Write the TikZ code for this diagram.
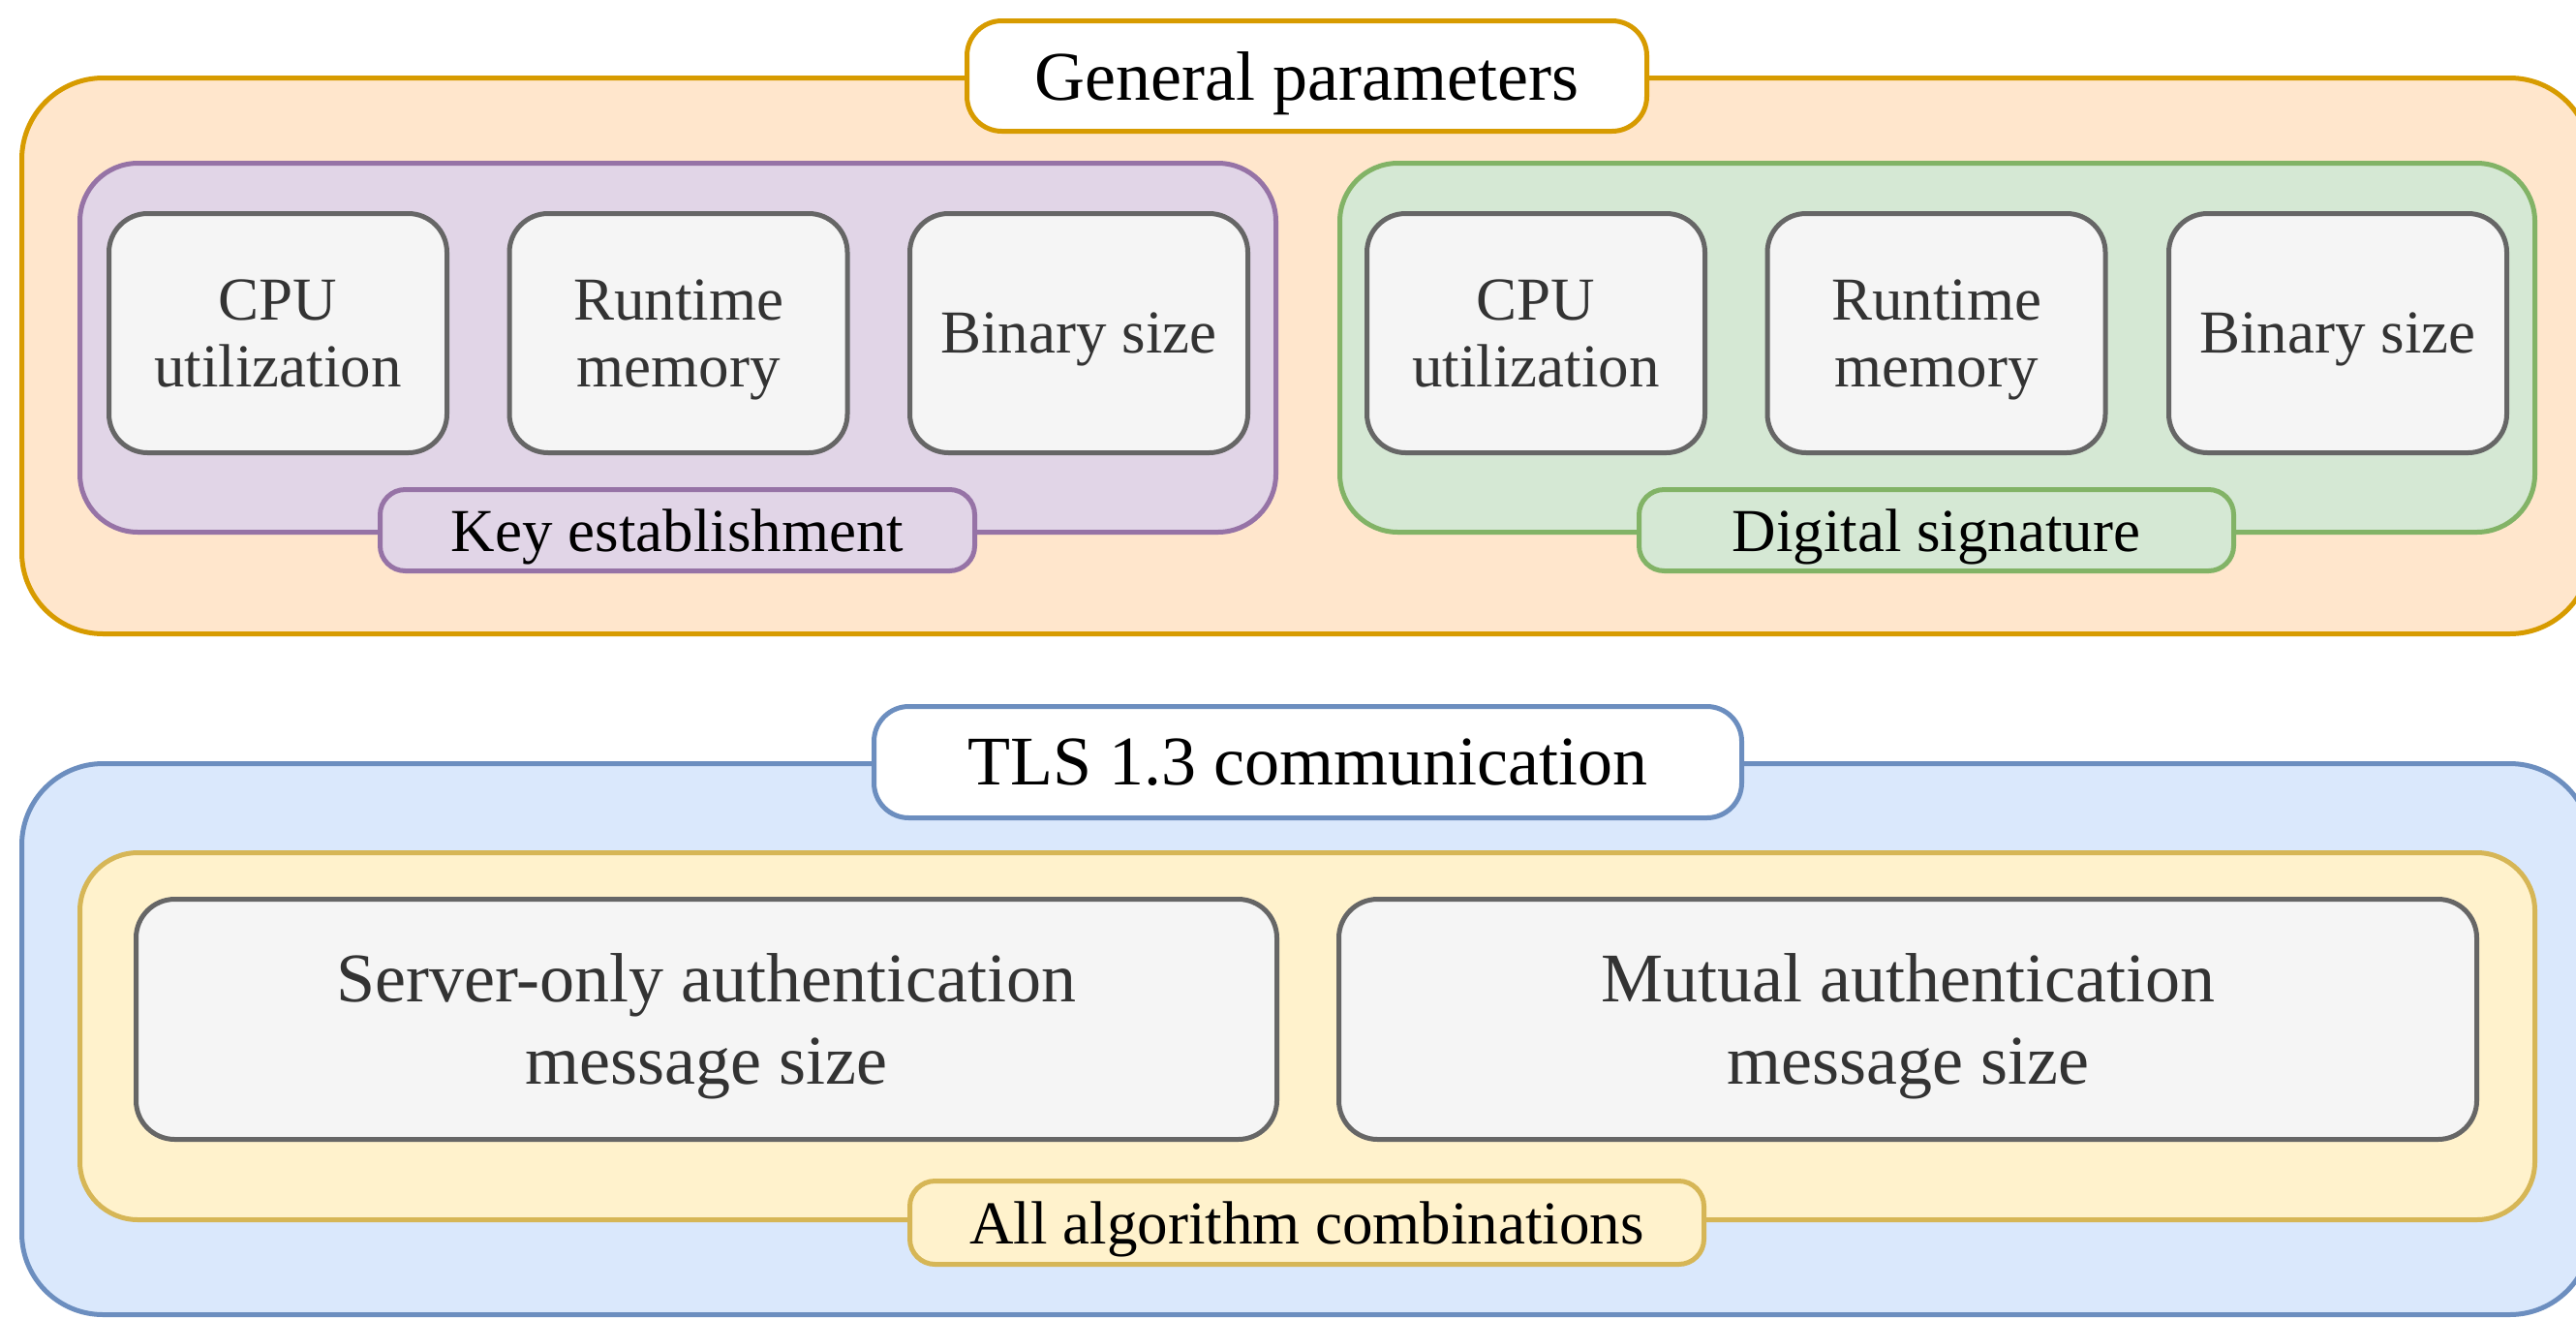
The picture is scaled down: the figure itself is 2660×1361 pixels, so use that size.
\documentclass[tikz,border=0pt]{standalone}
\usepackage{fontspec}
\setmainfont{Liberation Serif}
\newcommand\nd[1]{\raisebox{0pt}[\height][0pt]{#1}}
\definecolor{orS}{HTML}{D79B00}\definecolor{orF}{HTML}{FFE6CC}
\definecolor{puS}{HTML}{9673A6}\definecolor{puF}{HTML}{E1D5E7}
\definecolor{grS}{HTML}{82B366}\definecolor{grF}{HTML}{D5E8D4}
\definecolor{blS}{HTML}{6C8EBF}\definecolor{blF}{HTML}{DAE8FC}
\definecolor{yeS}{HTML}{D6B656}\definecolor{yeF}{HTML}{FFF2CC}
\definecolor{ceS}{HTML}{666666}\definecolor{ceF}{HTML}{F5F5F5}
\definecolor{ceT}{HTML}{333333}
\tikzset{
  base/.style={inner sep=0pt, outer sep=0pt, line width=2.5pt, align=center},
  outerbox/.style={base, rounded corners=42pt},
  groupbox/.style={base, rounded corners=30pt},
  cellbox/.style={base, rounded corners=20pt, draw=ceS, fill=ceF, text=ceT},
  titlebox/.style={base, rounded corners=18pt, fill=white, text=black},
  labelbox/.style={base, rounded corners=13pt, text=black},
  smallfont/.style={font=\fontsize{31.5}{34.75}\selectfont},
  bigfont/.style={font=\fontsize{36}{42.5}\selectfont},
  sz/.style 2 args={minimum width=#1*0.5pt, minimum height=#2*0.5pt}
}
\begin{document}
\begin{tikzpicture}[x=0.5pt,y=-0.5pt]
\useasboundingbox (0,0) rectangle (2660,1361);
\begin{scope}
\clip (0,0) rectangle (2660,1361);
% ---- top section
\node[outerbox, draw=orS, fill=orF, sz={2653}{574}] (gp) at (1349,367.5) {};
\node[titlebox, draw=orS, sz={702}{114}, bigfont] (gpt) at (1349.5,78.5) {\nd{General parameters}};
\node[groupbox, draw=puS, fill=puF, sz={1235}{381}] (ke) at (700,359) {};
\node[groupbox, draw=grS, fill=grF, sz={1234}{381}] (ds) at (2000.5,359) {};
\node[cellbox, sz={349}{247}, smallfont] (k1) at (287,344) {\nd{CPU}\\\nd{utilization}};
\node[cellbox, sz={349}{247}, smallfont] (k2) at (700.5,344) {\nd{Runtime}\\\nd{memory}};
\node[cellbox, sz={349}{247}, smallfont] (k3) at (1114,344) {\nd{Binary size}};
\node[cellbox, sz={349}{247}, smallfont] (d1) at (1586,344) {\nd{CPU}\\\nd{utilization}};
\node[cellbox, sz={349}{247}, smallfont] (d2) at (1999.5,344) {\nd{Runtime}\\\nd{memory}};
\node[cellbox, sz={349}{247}, smallfont] (d3) at (2414,344) {\nd{Binary size}};
\node[labelbox, draw=puS, fill=puF, sz={614}{84}, smallfont] (kel) at (699.5,547.5) {\nd{Key establishment}};
\node[labelbox, draw=grS, fill=grF, sz={614}{84}, smallfont] (dsl) at (1999.5,547.5) {\nd{Digital signature}};
% ---- bottom section
\node[outerbox, draw=blS, fill=blF, sz={2653}{569}] (tls) at (1349,1073) {};
\node[titlebox, draw=blS, sz={896}{115}, bigfont] (tlst) at (1350.5,787) {\nd{TLS 1.3 communication}};
\node[groupbox, draw=yeS, fill=yeF, sz={2535}{379}] (all) at (1350,1070) {};
\node[cellbox, sz={1178}{248}, bigfont] (so) at (729.5,1052.5) {\nd{Server-only authentication}\\\nd{message size}};
\node[cellbox, sz={1175}{248}, bigfont] (mu) at (1970,1052.5) {\nd{Mutual authentication}\\\nd{message size}};
\node[labelbox, draw=yeS, fill=yeF, sz={820}{86}, smallfont] (alll) at (1349.5,1262.5) {\nd{All algorithm combinations}};
\end{scope}
\end{tikzpicture}
\end{document}
